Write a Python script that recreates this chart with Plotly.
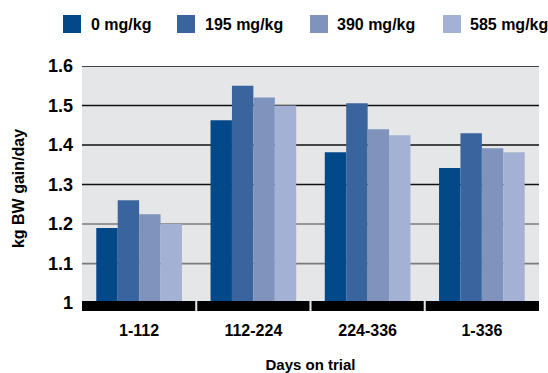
import plotly.graph_objects as go

# ---- data ----
categories = ["1-112", "112-224", "224-336", "1-336"]
series_names = ["0 mg/kg", "195 mg/kg", "390 mg/kg", "585 mg/kg"]
gain_0 = [1.19, 1.463, 1.382, 1.342]
gain_195 = [1.26, 1.55, 1.506, 1.43]
gain_390 = [1.225, 1.52, 1.44, 1.392]
gain_585 = [1.20, 1.50, 1.425, 1.382]
y_ticks = [1.0, 1.1, 1.2, 1.3, 1.4, 1.5, 1.6]
y_tick_labels = ["1", "1.1", "1.2", "1.3", "1.4", "1.5", "1.6"]

series_values = [gain_0, gain_195, gain_390, gain_585]
colors = ["#03498a", "#3a649d", "#7f93bd", "#a3b2d4"]

W, H = 548, 373
L, R, T, B = 82, 9, 66, 62
pw = W - L - R
ph = H - T - B


def px_x(x):
    return (x - L) / pw


def px_y(y):
    return (H - B - y) / ph


FONT = "Liberation Sans"

fig = go.Figure()
for name, vals, col in zip(series_names, series_values, colors):
    fig.add_trace(go.Bar(x=categories, y=vals, name=name, marker=dict(color=col, line=dict(width=0))))

shapes = []
# gridlines
for t in y_ticks[1:]:
    shapes.append(dict(type="line", xref="paper", yref="y", x0=0, x1=1, y0=t, y1=t,
                       line=dict(color="#111111" if t >= 1.25 else "#7a7a7a", width=1.6),
                       layer="below"))
# black band segments at base
n = len(categories)
gap = 0.009
for i in range(n):
    x0 = i - 0.5 + (gap if i > 0 else 0)
    x1 = i + 0.5 - (gap if i < n - 1 else 0)
    shapes.append(dict(type="rect", xref="x", yref="y", x0=x0, x1=x1, y0=0.98, y1=1.005,
                       fillcolor="black", line=dict(width=0), layer="above"))

# manual legend
leg_sq_x = [63, 177, 310, 443]
leg_txt_x = [89, 203, 335, 468]
annotations = []
for i, name in enumerate(series_names):
    shapes.append(dict(type="rect", xref="paper", yref="paper",
                       x0=px_x(leg_sq_x[i]), x1=px_x(leg_sq_x[i] + 18),
                       y0=px_y(33), y1=px_y(15), fillcolor=colors[i], line=dict(width=0)))
    annotations.append(dict(xref="paper", yref="paper", x=px_x(leg_txt_x[i]), y=px_y(24.5),
                            text=name, showarrow=False, xanchor="left", yanchor="middle",
                            font=dict(family=FONT, size=16, color="black", weight="bold")))

fig.update_layout(
    width=W, height=H,
    margin=dict(l=L, r=R, t=T, b=B, autoexpand=False),
    paper_bgcolor="white",
    plot_bgcolor="#e5e6e8",
    barmode="group",
    bargap=0.25,
    bargroupgap=0,
    showlegend=False,
    shapes=shapes,
    annotations=annotations,
    font=dict(family=FONT, color="black"),
    xaxis=dict(
        range=[-0.5, n - 0.5],
        automargin=False,
        showgrid=False, zeroline=False, showline=False,
        tickfont=dict(family=FONT, size=16, color="black", weight="bold"),
        ticklabelstandoff=8,
        title=dict(text="Days on trial", font=dict(family=FONT, size=15, color="black", weight="bold"), standoff=23),
    ),
    yaxis=dict(
        range=[0.98, 1.6],
        automargin=False,
        tickvals=y_ticks, ticktext=y_tick_labels,
        showgrid=False, zeroline=False, showline=False,
        tickfont=dict(family=FONT, size=18, color="black", weight="bold"),
        ticklabelstandoff=8,
        title=dict(text="kg BW gain/day", font=dict(family=FONT, size=16, color="black", weight="bold"), standoff=19),
    ),
)

fig.write_html("out.html", config={"displayModeBar": False},
               post_script="document.body.style.margin='0';")
